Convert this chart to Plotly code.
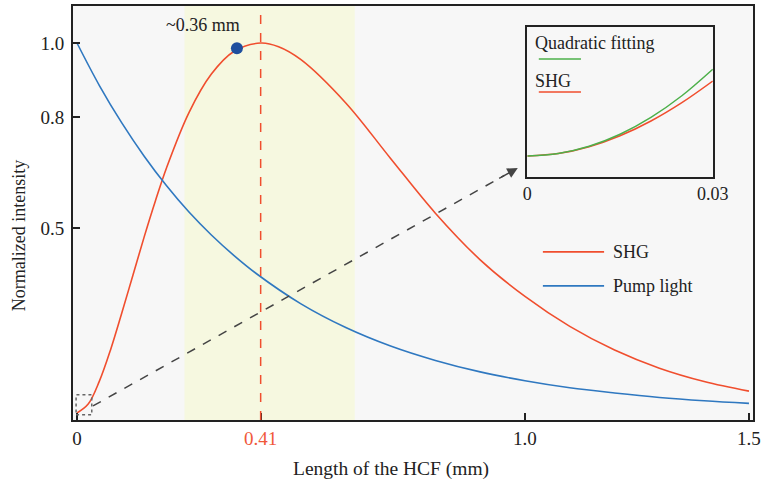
import plotly.graph_objects as go

# ---------------- data ----------------
shg_x = [0, 0.025, 0.05, 0.075, 0.1, 0.125, 0.15, 0.175, 0.2, 0.25, 0.3, 0.35, 0.41,
         0.45, 0.5, 0.6, 0.7, 0.8, 0.9, 1.0, 1.1, 1.2, 1.3, 1.4, 1.5]
shg_y = [0, 0.024, 0.086, 0.171, 0.270, 0.373, 0.476, 0.573, 0.663, 0.812, 0.916, 0.977, 1.0,
         0.990, 0.955, 0.838, 0.688, 0.540, 0.414, 0.315, 0.234, 0.170, 0.121, 0.085, 0.059]

pump_x = [0, 0.05, 0.1, 0.15, 0.2, 0.25, 0.3, 0.35, 0.4, 0.5, 0.6, 0.7, 0.8, 0.9,
          1.0, 1.1, 1.2, 1.3, 1.4, 1.5]
pump_y = [1.0, 0.885, 0.784, 0.694, 0.614, 0.543, 0.481, 0.426, 0.377, 0.295, 0.231, 0.181,
          0.142, 0.111, 0.087, 0.068, 0.054, 0.042, 0.033, 0.026]

inset_x = [0, 0.005, 0.01, 0.015, 0.02, 0.025, 0.03]
inset_shg = [0, 0.00107, 0.00419, 0.00920, 0.01595, 0.02432, 0.03418]
inset_fit = [0, 0.00110, 0.00440, 0.00989, 0.01759, 0.02747, 0.03956]

marker_x = [0.357]
marker_y = [0.986]
marker_label = "~0.36 mm"

band_range = [0.24, 0.62]
peak_position = 0.41

x_tick_vals = [0, 0.41, 1.0, 1.5]
x_tick_text = ["0", '<span style="color:#f0583a">0.41</span>', "1.0", "1.5"]
y_tick_vals = [0.5, 0.8, 1.0]
y_tick_text = ["0.5", "0.8", "1.0"]
inset_tick_vals = [0, 0.03]
inset_tick_text = ["0", "0.03"]

zoom_box = [-0.002, 0.033, -0.005, 0.049]
arrow_start = [0.0357, 0.019]
arrow_end = [0.984, 0.662]

# ---------------- styles ----------------
RED = "#f04e2e"
BLUE = "#2f78c0"
GREEN = "#4db04a"
DOT = "#1f4f9e"
FONT = "Liberation Serif"
TXT = "#222222"

fig = go.Figure()

fig.add_trace(go.Scatter(x=shg_x, y=shg_y, mode="lines", line=dict(color=RED, width=1.6, shape="spline"),
                         showlegend=False, xaxis="x", yaxis="y"))
fig.add_trace(go.Scatter(x=pump_x, y=pump_y, mode="lines", line=dict(color=BLUE, width=1.6, shape="spline"),
                         showlegend=False, xaxis="x", yaxis="y"))
fig.add_trace(go.Scatter(x=marker_x, y=marker_y, mode="markers", marker=dict(color=DOT, size=12),
                         showlegend=False, xaxis="x", yaxis="y"))

fig.add_trace(go.Scatter(x=inset_x, y=inset_shg, mode="lines", line=dict(color=RED, width=1.5, shape="spline"),
                         showlegend=False, xaxis="x2", yaxis="y2"))
fig.add_trace(go.Scatter(x=inset_x, y=inset_fit, mode="lines", line=dict(color=GREEN, width=1.5, shape="spline"),
                         showlegend=False, xaxis="x2", yaxis="y2"))

shapes = [
    dict(type="rect", xref="x", yref="paper", x0=band_range[0], x1=band_range[1], y0=0, y1=1,
         fillcolor="#f6f8e0", line=dict(width=0), layer="below"),
    dict(type="line", xref="x", yref="paper", x0=peak_position, x1=peak_position, y0=0, y1=1,
         line=dict(color=RED, width=1.5, dash="dash")),
    dict(type="rect", xref="x", yref="y", x0=zoom_box[0], x1=zoom_box[1], y0=zoom_box[2], y1=zoom_box[3],
         line=dict(color="#666666", width=1.5, dash="dot")),
    dict(type="line", xref="x", yref="y", x0=arrow_start[0], y0=arrow_start[1],
         x1=arrow_end[0] - 0.03, y1=arrow_end[1] - 0.02,
         line=dict(color="#444444", width=1.5, dash="dash")),
    # main legend samples
    dict(type="line", xref="paper", yref="paper", x0=0.691, x1=0.781, y0=0.406, y1=0.406,
         line=dict(color=RED, width=1.6)),
    dict(type="line", xref="paper", yref="paper", x0=0.691, x1=0.781, y0=0.324, y1=0.324,
         line=dict(color=BLUE, width=1.6)),
    # inset legend samples
    dict(type="line", xref="paper", yref="paper", x0=0.685, x1=0.747, y0=0.872, y1=0.872,
         line=dict(color=GREEN, width=1.5)),
    dict(type="line", xref="paper", yref="paper", x0=0.685, x1=0.747, y0=0.792, y1=0.792,
         line=dict(color=RED, width=1.5)),
]

annotations = [
    dict(x=arrow_end[0], y=arrow_end[1], xref="x", yref="y", ax=arrow_end[0] - 0.045, ay=arrow_end[1] - 0.03,
         axref="x", ayref="y", text="", showarrow=True, arrowhead=2, arrowsize=1.4, arrowwidth=1.5,
         arrowcolor="#444444", standoff=0),
    dict(x=0.281, y=1.049, xref="x", yref="y", text=marker_label, showarrow=False,
         font=dict(family=FONT, size=18, color=TXT)),
    dict(x=0.791, y=0.406, xref="paper", yref="paper", text="SHG", showarrow=False, xanchor="left",
         yanchor="middle", font=dict(family=FONT, size=18, color=TXT)),
    dict(x=0.791, y=0.324, xref="paper", yref="paper", text="Pump light", showarrow=False, xanchor="left",
         yanchor="middle", font=dict(family=FONT, size=18, color=TXT)),
    dict(x=0.677, y=0.911, xref="paper", yref="paper", text="Quadratic fitting", showarrow=False,
         xanchor="left", yanchor="middle", font=dict(family=FONT, size=18, color=TXT)),
    dict(x=0.677, y=0.819, xref="paper", yref="paper", text="SHG", showarrow=False,
         xanchor="left", yanchor="middle", font=dict(family=FONT, size=18, color=TXT)),
    dict(x=0.468, y=-0.118, xref="paper", yref="paper", text="Length of the HCF (mm)", showarrow=False,
         xanchor="center", yanchor="middle", font=dict(family=FONT, size=19.5, color=TXT)),
    dict(x=-0.0794, y=0.444, xref="paper", yref="paper", text="Normalized intensity", showarrow=False,
         textangle=-90, xanchor="center", yanchor="middle", font=dict(family=FONT, size=18, color=TXT)),
]

axis_common = dict(showline=True, mirror=True, linecolor=TXT, showgrid=False, zeroline=False,
                   automargin=False)

fig.update_layout(
    width=762, height=491, autosize=False,
    margin=dict(l=73, r=9, t=6, b=71),
    paper_bgcolor="white", plot_bgcolor="#f7f7f7",
    showlegend=False,
    xaxis=dict(domain=[0, 1], range=[-0.0089, 1.509], tickmode="array", tickvals=x_tick_vals,
               ticktext=x_tick_text, ticks="inside", ticklen=7, tickwidth=1.5, tickcolor=TXT,
               linewidth=2, anchor="y", tickfont=dict(family=FONT, size=19, color=TXT), **axis_common),
    yaxis=dict(domain=[0, 1], range=[-0.019, 1.1], tickmode="array", tickvals=y_tick_vals,
               ticktext=y_tick_text, ticks="inside", ticklen=7, tickwidth=1.5, tickcolor=TXT,
               linewidth=2, anchor="x", ticklabelstandoff=3,
               tickfont=dict(family=FONT, size=19, color=TXT), **axis_common),
    xaxis2=dict(domain=[0.668, 0.941], range=[-0.00002, 0.03002], tickmode="array", tickvals=inset_tick_vals,
                ticktext=inset_tick_text, ticks="", linewidth=1.5, anchor="y2",
                tickfont=dict(family=FONT, size=18, color=TXT), **axis_common),
    yaxis2=dict(domain=[0.587, 0.949], range=[-0.0096, 0.0588], showticklabels=False, ticks="",
                linewidth=1.5, anchor="x2", **axis_common),
    shapes=shapes,
    annotations=annotations,
)

fig.write_html(
    "out.html",
    config={"displayModeBar": False, "responsive": False},
    post_script="document.body.style.margin='0';document.body.style.overflow='hidden';",
)
